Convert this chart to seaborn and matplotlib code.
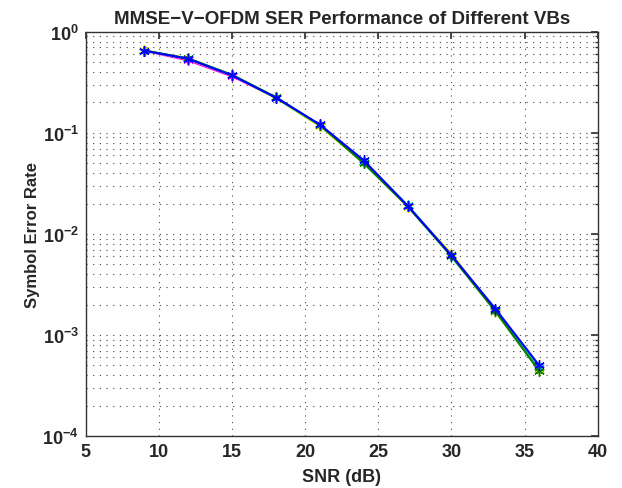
import numpy as np
import pandas as pd
import matplotlib
matplotlib.use("Agg")
import matplotlib.pyplot as plt
import seaborn as sns
from matplotlib.ticker import FixedLocator, FuncFormatter, LogLocator, NullFormatter

# SNR sweep (dB)
snr = [9, 12, 15, 18, 21, 24, 27, 30, 33, 36]

# Symbol error rate for each virtual-carrier block configuration
ser_vb1 = [0.650, 0.520, 0.362, 0.224, 0.118, 0.0510, 0.0190, 0.00620, 0.00175, 0.000470]
ser_vb2 = [0.655, 0.535, 0.370, 0.220, 0.116, 0.0505, 0.0186, 0.00640, 0.00170, 0.000450]
ser_vb3 = [0.650, 0.540, 0.372, 0.222, 0.119, 0.0520, 0.0192, 0.00610, 0.00178, 0.000480]
ser_vb4 = [0.652, 0.545, 0.375, 0.225, 0.120, 0.0500, 0.0188, 0.00600, 0.00172, 0.000440]
ser_vb5 = [0.650, 0.540, 0.370, 0.223, 0.121, 0.0535, 0.0190, 0.00615, 0.00182, 0.000500]

series_names = ["VB1", "VB2", "VB3", "VB4", "VB5"]
series_values = [ser_vb1, ser_vb2, ser_vb3, ser_vb4, ser_vb5]
series_colors = ["#ff00ff", "#e6e600", "#00cccc", "#008000", "#0000ff"]

df = pd.concat(
    [pd.DataFrame({"SNR": snr, "SER": v, "VB": n}) for n, v in zip(series_names, series_values)],
    ignore_index=True,
)

sns.set_theme(style="white")
plt.rcParams["font.family"] = ["Liberation Sans", "DejaVu Sans"]
plt.rcParams["font.weight"] = "bold"
plt.rcParams["mathtext.fontset"] = "custom"
plt.rcParams["mathtext.rm"] = "Liberation Sans:bold"
plt.rcParams["mathtext.bf"] = "Liberation Sans:bold"
plt.rcParams["mathtext.default"] = "bf"

fig = plt.figure(figsize=(6.22, 4.89), dpi=100)
ax = fig.add_axes([0.138, 0.106, 0.823, 0.827])

# one curve per VB, asterisk markers in the curve's own colour
for name, color in zip(series_names, series_colors):
    sns.lineplot(
        data=df[df["VB"] == name], x="SNR", y="SER", color=color,
        marker=(6, 2, 0), markersize=7.5, markeredgewidth=1.0,
        markeredgecolor=color, markerfacecolor=color, linewidth=1.5,
        legend=False, ax=ax,
    )

ax.set_yscale("log")
ax.set_xlim(5, 40)
ax.set_ylim(1e-4, 1)

ax.xaxis.set_major_locator(FixedLocator([5, 10, 15, 20, 25, 30, 35, 40]))
ax.yaxis.set_major_locator(FixedLocator([1e-4, 1e-3, 1e-2, 1e-1, 1]))
ax.yaxis.set_minor_locator(LogLocator(base=10, subs=np.arange(2, 10)))
ax.yaxis.set_minor_formatter(NullFormatter())
ax.yaxis.set_major_formatter(FuncFormatter(lambda v, p: r"$10^{%d}$" % int(round(np.log10(v)))))

ax.grid(True, which="major", axis="both", linestyle=(0, (1, 5)), color="#444444", linewidth=0.8)
ax.grid(True, which="minor", axis="y", linestyle=(0, (1, 5)), color="#444444", linewidth=0.8)

ax.tick_params(axis="both", which="both", direction="in", top=True, right=True,
               labelsize=13, color="#333333", pad=5)
ax.tick_params(which="major", length=5)
ax.tick_params(which="minor", length=2.5)
for lbl in ax.get_xticklabels() + ax.get_yticklabels():
    lbl.set_fontweight("bold")

for s in ax.spines.values():
    s.set_color("#333333")
    s.set_linewidth(1.0)

ax.set_xlabel("SNR (dB)", fontsize=13, fontweight="bold", labelpad=6)
ax.set_ylabel("Symbol Error Rate", fontsize=12, fontweight="bold", labelpad=2)
ax.set_title("MMSE\u2212V\u2212OFDM SER Performance of Different VBs", fontsize=13.5, fontweight="bold", pad=6)

fig.savefig("out.png", dpi=100)
